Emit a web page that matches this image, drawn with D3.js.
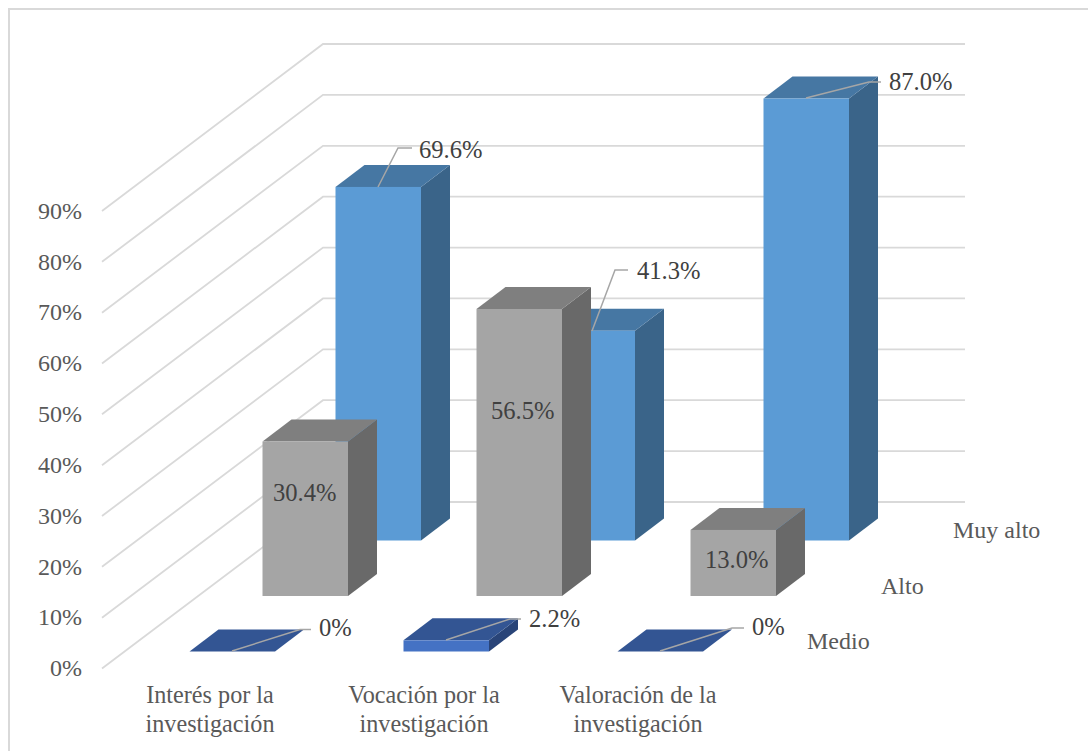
<!DOCTYPE html>
<html><head><meta charset="utf-8">
<script src="https://cdn.jsdelivr.net/npm/d3@7/dist/d3.min.js"></script>
<style>html,body{margin:0;padding:0;background:#fff;overflow:hidden}svg{display:block}
text{font-family:"Liberation Serif","Times New Roman",serif}</style></head><body>
<svg id="c" width="1088" height="751"></svg>
<script>
const categories=[["Interés por la","investigación"],["Vocación por la","investigación"],["Valoración de la","investigación"]];
const seriesNames=["Medio","Alto","Muy alto"];
const medio=[0,2.2,0];
const alto=[30.4,56.5,13.0];
const muyAlto=[69.6,41.3,87.0];
const yTicks=[0,10,20,30,40,50,60,70,80,90];
const seriesValues=[medio,alto,muyAlto];
const palette=[
 {front:"#4472c4",top:"#335593",side:"#294478"},
 {front:"#a5a5a5",top:"#7f7f7f",side:"#696969"},
 {front:"#5b9bd5",top:"#4677a3",side:"#3a6489"}];
// layout of hand-placed data labels and their leader lines
const labelLayout={
 "0-0":{lx:319,ly:628.5,ex:300,ey:629.5,sx:232,sy:651,kx:311},
 "0-1":{lx:529,ly:619.5,ex:510,ey:619,sx:446,sy:640,kx:521},
 "0-2":{lx:752,ly:627.5,ex:732,ey:628,sx:660,sy:651,kx:744},
 "1-0":{lx:273,ly:493.5},
 "1-1":{lx:491,ly:411.5},
 "1-2":{lx:705,ly:560.5},
 "2-0":{lx:419,ly:150.5,ex:398,ey:148,sx:378,sy:187,kx:412},
 "2-1":{lx:637,ly:271.5,ex:615,ey:270,sx:592,sy:331,kx:628},
 "2-2":{lx:889,ly:82.5,ex:869,ey:82,sx:806,sy:98,kx:881}};

const svg=d3.select("#c");
const barW=85.5,depthX=29,depthY=22;
const x=d3.scalePoint().domain(d3.range(categories.length)).range([189.5,617.5]);
const zx=d3.scalePoint().domain(seriesNames).range([0,146]);
const zy=d3.scalePoint().domain(seriesNames).range([651.5,540.5]);
const h=d3.scaleLinear().domain([0,100]).range([0,508]);
// walls
const gx=d3.scaleLinear().domain([0,1]).range([102,323]);
const gy=d3.scaleLinear().domain([0,90]).range([668.5,211]);
const wy=d3.scaleLinear().domain([0,90]).range([502,44]);

svg.append("path").attr("d","M9,751V9H1088").attr("fill","none").attr("stroke","#d9d9d9").attr("stroke-width",2);

const grid=svg.append("g").attr("fill","none").attr("stroke","#d9d9d9").attr("stroke-width",1.8);
yTicks.forEach(t=>{
  grid.append("path").attr("d",`M${gx(0)},${gy(t)}L${gx(1)},${wy(t)}H965`);
});
svg.append("g").selectAll("text").data(yTicks).join("text")
  .attr("x",82).attr("y",d=>gy(d)).attr("dy","0.32em").attr("text-anchor","end")
  .attr("font-size",24).attr("fill","#595959").text(d=>d+"%");

const bars=svg.append("g");
for(let s=seriesNames.length-1;s>=0;s--){
  const name=seriesNames[s],c=palette[s];
  seriesValues[s].forEach((v,i)=>{
    const x0=x(i)+zx(name),base=zy(name),top=base-h(v),x1=x0+barW;
    const g=bars.append("g");
    g.append("path").attr("fill",c.side).attr("d",`M${x1},${top}L${x1+depthX},${top-depthY}V${base-depthY}L${x1},${base}Z`);
    g.append("path").attr("fill",c.top).attr("d",`M${x0},${top}L${x0+depthX},${top-depthY}H${x1+depthX}L${x1},${top}Z`);
    if(v>0) g.append("rect").attr("x",x0).attr("y",top).attr("width",barW).attr("height",h(v)).attr("fill",c.front);
  });
}
const labels=svg.append("g");
seriesNames.forEach((name,s)=>{
  seriesValues[s].forEach((v,i)=>{
    const L=labelLayout[s+"-"+i];
    if(L.ex!==undefined){
      labels.append("path").attr("fill","none").attr("stroke","#a6a6a6").attr("stroke-width",1.5)
        .attr("d",`M${L.sx},${L.sy}L${L.ex},${L.ey}H${L.kx}`);
    }
    labels.append("text").attr("x",L.lx).attr("y",L.ly).attr("dy","0.32em")
      .attr("font-size",24.6).attr("fill","#404040")
      .text(v===0?"0%":d3.format(".1f")(v)+"%");
  });
});
svg.append("g").selectAll("text").data(categories).join("text")
  .attr("text-anchor","middle").attr("font-size",24.2).attr("fill","#595959")
  .each(function(d,i){
    d3.select(this).selectAll("tspan").data(d).join("tspan")
      .attr("x",x(i)+20.5).attr("y",(t,k)=>703+k*29).text(t=>t);
  });
const serLabelX={"Medio":807,"Alto":881,"Muy alto":953};
svg.append("g").selectAll("text").data(seriesNames).join("text")
  .attr("x",d=>serLabelX[d]).attr("y",d=>zy(d)-2.5).attr("font-size",24).attr("fill","#595959").text(d=>d);
</script></body></html>
